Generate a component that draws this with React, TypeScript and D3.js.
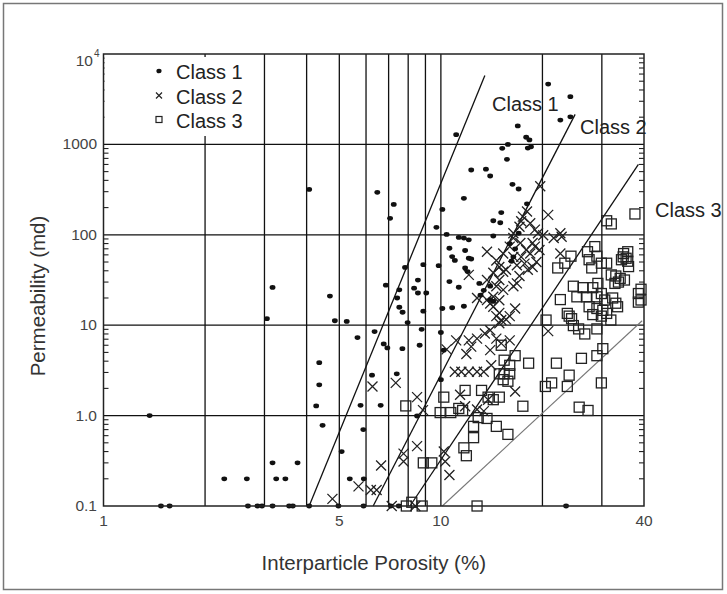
import * as d3 from 'd3'

// Lucia-style porosity/permeability cross plot (log-log)
const CLASS1: [number, number][] = [
  [1.37, 1.0], [1.48, 0.1], [1.57, 0.1], [2.28, 0.2], [2.66, 0.2], [2.68, 0.1], [2.86, 0.1], [2.95, 0.1],
  [3.17, 0.1], [3.55, 0.1], [3.64, 0.1], [4.07, 0.1], [4.97, 0.1], [5.9, 0.1], [7.1, 0.1], [7.5, 0.1], [23.5, 0.1],
  [3.25, 0.2], [3.46, 0.2], [5.37, 0.2], [5.91, 0.2], [3.17, 0.3], [3.76, 0.3],
  [3.05, 11.8], [3.17, 26.2], [4.07, 318], [4.69, 21], [4.85, 11.2], [5.26, 11], [4.36, 3.85], [4.36, 2.19],
  [4.27, 1.28], [4.46, 0.78], [5.08, 0.4], [5.66, 7.3], [6.25, 2.8], [5.78, 1.3], [6.63, 1.3], [5.89, 0.7],
  [6.36, 8.5], [6.48, 295], [7.25, 217], [7.07, 152], [6.87, 27.7], [6.77, 6.2], [6.94, 5.6], [7.83, 43.6],
  [7.53, 24.6], [7.42, 20], [7.53, 15.8], [7.7, 13.9], [7.97, 10.7], [7.4, 2.9], [7.69, 5.5], [8.5, 0.99],
  [8.87, 46.7], [9.85, 45.5], [8.55, 31.6], [8.33, 25.7], [8.55, 22.7], [9.05, 22.7], [8.77, 9.0], [8.87, 14.3],
  [8.65, 6.0], [10.0, 8.3], [10.2, 5.3], [10.0, 2.5], [10.1, 15.3], [10.8, 15.6], [11.7, 16.2],
  [11.1, 1280], [16.9, 1600], [15.8, 1000], [15.2, 906], [15.7, 684], [12.3, 521], [13.6, 532], [14.0, 447],
  [16.3, 362], [17.0, 321], [11.7, 253], [10.1, 191], [15.1, 176], [15.0, 136], [14.3, 143], [9.7, 121],
  [10.4, 101], [11.3, 93.5], [11.7, 92], [12.1, 88], [14.3, 97], [10.6, 71], [10.8, 57.5], [11.0, 52],
  [11.8, 67], [11.8, 43], [12.1, 55], [12.3, 54], [12.0, 39.2], [11.3, 26.3], [10.6, 30.4],
  [13.0, 29], [13.4, 24.3], [13.1, 21.5], [14.0, 19.2], [14.3, 18.3], [14.0, 27],
  [20.8, 4650], [24.2, 3370], [22.6, 1860], [24.2, 2020], [17.9, 1200], [18.3, 1120], [18.5, 940], [18.1, 910],
  [18.0, 220], [16.2, 51], [16.4, 57], [16.6, 70], [17.0, 104], [16.0, 80],
]

const CLASS2: [number, number][] = [
  [4.77, 0.12], [5.7, 0.165], [6.2, 0.15], [6.45, 0.15], [6.65, 0.28], [7.15, 0.1], [7.75, 0.38], [7.75, 0.31],
  [8.4, 0.1], [8.5, 0.46], [6.27, 2.1], [7.35, 2.3], [8.5, 1.6], [8.85, 1.15], [10.2, 0.4], [10.3, 0.31], [10.6, 0.22],
  [10.4, 5.4], [11.1, 6.8], [12.1, 6.8], [12.8, 7.1], [13.5, 8.1], [14.0, 8.8], [14.6, 7.1], [16.0, 6.8],
  [11.9, 4.8], [12.3, 5.8], [14.0, 5.3], [15.1, 6.3],
  [11.0, 3.06], [11.5, 3.06], [12.1, 3.06], [12.8, 3.06], [13.4, 3.06], [14.1, 3.6], [11.4, 1.7], [11.8, 1.27],
  [12.8, 1.17], [13.4, 1.12], [13.8, 1.5], [16.6, 1.85], [20.8, 8.6],
  [14.3, 20.6], [14.9, 18.9], [14.0, 17.4], [16.6, 15.3], [14.6, 12.6], [15.1, 11.4], [12.8, 20], [13.7, 19],
  [14.3, 16.0], [14.9, 13.7], [16.0, 12.6], [15.6, 11.6], [14.9, 10.5],
  [17.5, 159], [17.1, 123], [16.4, 104], [16.0, 74], [15.3, 62], [16.4, 57], [14.6, 52], [14.9, 44], [15.6, 41],
  [17.1, 35], [14.3, 38], [14.9, 31.6], [14.6, 27], [16.4, 27], [13.7, 31.6], [12.1, 36], [13.7, 65],
  [18.0, 181], [20.8, 166], [17.3, 141], [18.4, 134], [19.0, 114], [19.4, 104], [16.4, 92], [17.2, 81],
  [18.7, 81], [17.9, 68], [19.0, 74], [19.6, 68], [18.4, 62], [17.3, 57], [19.2, 50], [18.7, 44], [18.1, 41],
  [17.7, 48], [16.8, 46], [15.3, 39], [16.8, 29], [15.3, 24.6],
  [19.7, 345], [20.1, 99], [22.6, 104], [22.8, 95], [21.6, 92], [22.6, 62],
]

const CLASS3: [number, number][] = [
  [37.6, 170], [31.0, 143], [32.0, 132],
  [22.2, 43], [23.3, 48.5], [24.3, 58], [22.6, 19.2], [20.5, 11.4], [24.7, 27], [26.4, 26], [28.2, 26], [29.2, 29],
  [27.2, 65], [27.5, 53], [28.0, 43], [28.6, 74], [29.0, 58], [29.9, 48.5], [31.0, 48.5],
  [34.8, 62], [35.4, 55], [34.3, 53], [36.0, 44.5], [32, 36], [33, 35], [35, 31.6], [32.8, 29],
  [25.3, 20.6], [27.0, 20.6], [29.0, 20.6], [29.9, 22.4], [30.6, 19], [32.3, 20], [33.0, 17.5],
  [27.5, 16], [29.0, 15.3], [30.2, 14.6], [31.0, 13.5], [31.9, 11.4], [29.9, 12.6], [28.2, 13.1],
  [24.0, 12.6], [24.7, 9.9], [25.6, 9.1], [26.7, 8.0], [29.0, 9.1], [38.5, 22.4], [38.5, 18], [33.4, 16],
  [39.2, 25], [39.2, 19], [35.8, 65], [34.7, 57], [35.8, 51], [34, 33], [33.6, 30], [24.4, 11.8], [23.7, 13.5],
  [30.2, 5.5], [29.0, 4.6], [26.1, 4.3], [29.9, 2.3], [27.3, 1.14], [25.7, 1.24], [24.0, 2.8], [23.7, 2.1],
  [22.0, 3.8], [21.3, 2.3], [20.4, 2.1],
  [18.2, 3.8], [16.6, 4.6], [15.4, 4.1], [16.0, 3.6], [14.9, 2.9], [15.4, 2.9], [16.0, 2.9], [15.3, 2.5], [15.8, 2.4],
  [11.8, 1.9], [13.2, 1.9], [14.3, 1.5], [14.9, 1.6], [13.8, 1.6], [17.5, 1.27], [11.3, 1.2], [11.6, 1.14],
  [12.9, 0.95], [13.7, 0.93], [12.5, 0.76], [14.6, 0.76], [15.8, 0.62], [12.5, 0.57], [11.7, 0.44], [11.9, 0.36],
  [7.87, 1.28], [10.2, 1.6], [9.95, 1.08], [10.7, 1.08], [15.1, 6.0],
  [8.87, 0.3], [9.4, 0.3], [8.2, 0.11], [7.9, 0.1], [8.8, 0.1], [12.8, 0.1],
]

// class boundary lines: [start, end] in (porosity, permeability)
const LINE_CLASS1: [number, number][] = [[4.07, 0.1], [13.5, 5800]]
const LINE_CLASS2: [number, number][] = [[6.3, 0.1], [25.0, 2150]]
const LINE_CLASS3: [number, number][] = [[8.1, 0.1], [38.5, 600]]
const LINE_LOWER: [number, number][] = [[10.1, 0.1], [39.5, 11.2]]

const X_TICKS = [1, 5, 10, 40]
const X_GRID = [2, 3, 4, 5, 6, 7, 8, 9, 10, 20, 30]
const Y_GRID = [1, 10, 100, 1000]
const Y_TICKS = [0.1, 1, 10, 100, 1000]
const Y_TICK_TEXT = ['0.1', '1.0', '10', '100', '1000']

const FONT = '"Liberation Sans", Arial, Helvetica, sans-serif'
const W = 727
const H = 594

export default function App() {
  const x = d3.scaleLog().domain([1, 40]).range([103.5, 644])
  const y = d3.scaleLog().domain([0.1, 10000]).range([506, 54])
  const [x0, x1] = x.range()
  const [y0, y1] = y.range()

  const line = d3.line<[number, number]>().x((d) => x(d[0])).y((d) => y(d[1]))

  const minor: number[] = []
  for (let e = -1; e < 4; e++) {
    for (let k = 2; k <= 9; k++) minor.push(k * Math.pow(10, e))
  }

  const cross = (cx: number, cy: number, s: number) =>
    `M${cx - s},${cy - s}L${cx + s},${cy + s}M${cx - s},${cy + s}L${cx + s},${cy - s}`

  return (
    <svg
      width={W}
      height={H}
      style={{ position: 'absolute', left: 0, top: 0, background: '#fff', fontFamily: FONT }}
    >
      <rect x={3.5} y={3.5} width={719} height={586} fill="#fff" stroke="#777" strokeWidth={1.5} />

      {/* grid */}
      {Y_GRID.map((v) => (
        <line key={'hy' + v} x1={x0} x2={x1} y1={y(v)} y2={y(v)} stroke="#111" strokeWidth={1.3} />
      ))}
      {X_GRID.map((v) => (
        <line key={'vx' + v} x1={x(v)} x2={x(v)} y1={y0} y2={y1} stroke="#111" strokeWidth={1.3} />
      ))}

      {/* minor ticks on left and right axes */}
      {minor.map((v) => (
        <g key={'m' + v}>
          <line x1={x0} x2={x0 + 5} y1={y(v)} y2={y(v)} stroke="#222" strokeWidth={1.1} />
          <line x1={x1} x2={x1 - 5} y1={y(v)} y2={y(v)} stroke="#222" strokeWidth={1.1} />
        </g>
      ))}

      {/* boundary lines */}
      {[LINE_CLASS1, LINE_CLASS2, LINE_CLASS3].map((l, i) => (
        <path key={'b' + i} d={line(l) ?? ''} fill="none" stroke="#111" strokeWidth={1.3} />
      ))}
      <path d={line(LINE_LOWER) ?? ''} fill="none" stroke="#777" strokeWidth={1.1} />

      {/* data */}
      {CLASS3.map((d, i) => (
        <rect key={'s' + i} x={x(d[0]) - 5} y={y(d[1]) - 5} width={10} height={10}
          fill="none" stroke="#222" strokeWidth={1.3} />
      ))}
      {CLASS2.map((d, i) => (
        <path key={'c' + i} d={cross(x(d[0]), y(d[1]), 5)} stroke="#222" strokeWidth={1.3} />
      ))}
      {CLASS1.map((d, i) => (
        <ellipse key={'p' + i} cx={x(d[0])} cy={y(d[1])} rx={2.9} ry={2.4} fill="#111" />
      ))}

      {/* legend */}
      <rect x={x0 + 1} y={y1 + 3} width={156} height={79} fill="#fff" />
      <ellipse cx={159} cy={71} rx={2.6} ry={2.3} fill="#111" />
      <path d={cross(159, 95.5, 3)} stroke="#222" strokeWidth={1.2} />
      <rect x={156} y={116.5} width={6} height={6} fill="none" stroke="#222" strokeWidth={1.2} />
      <g fontSize={20} fill="#222">
        <text x={176} y={79}>Class 1</text>
        <text x={176} y={103.5}>Class 2</text>
        <text x={176} y={127.5}>Class 3</text>
      </g>

      {/* boundary labels */}
      <g fontSize={20} fill="#222">
        <text x={492} y={110.5}>Class 1</text>
        <text x={580} y={134}>Class 2</text>
        <text x={655} y={216.5}>Class 3</text>
      </g>

      {/* frame */}
      <rect x={x0} y={y1} width={x1 - x0} height={y0 - y1} fill="none" stroke="#222" strokeWidth={1.5} />

      {/* tick labels */}
      <g fontSize={15.5} fill="#444">
        {X_TICKS.map((v) => (
          <text key={'xt' + v} x={x(v)} y={526} textAnchor="middle">{v}</text>
        ))}
        {Y_TICKS.map((v, i) => (
          <text key={'yt' + v} x={97} y={y(v) + 5} textAnchor="end">{Y_TICK_TEXT[i]}</text>
        ))}
        <text x={93} y={66} textAnchor="end">10</text>
        <text x={94} y={57} fontSize={10}>4</text>
      </g>

      {/* axis titles */}
      <text x={(x0 + x1) / 2} y={570} textAnchor="middle" fontSize={20.5} fill="#333">
        Interparticle Porosity (%)
      </text>
      <text transform="translate(45,296) rotate(-90)" textAnchor="middle" fontSize={20.5} fill="#333">
        Permeability (md)
      </text>
    </svg>
  )
}
